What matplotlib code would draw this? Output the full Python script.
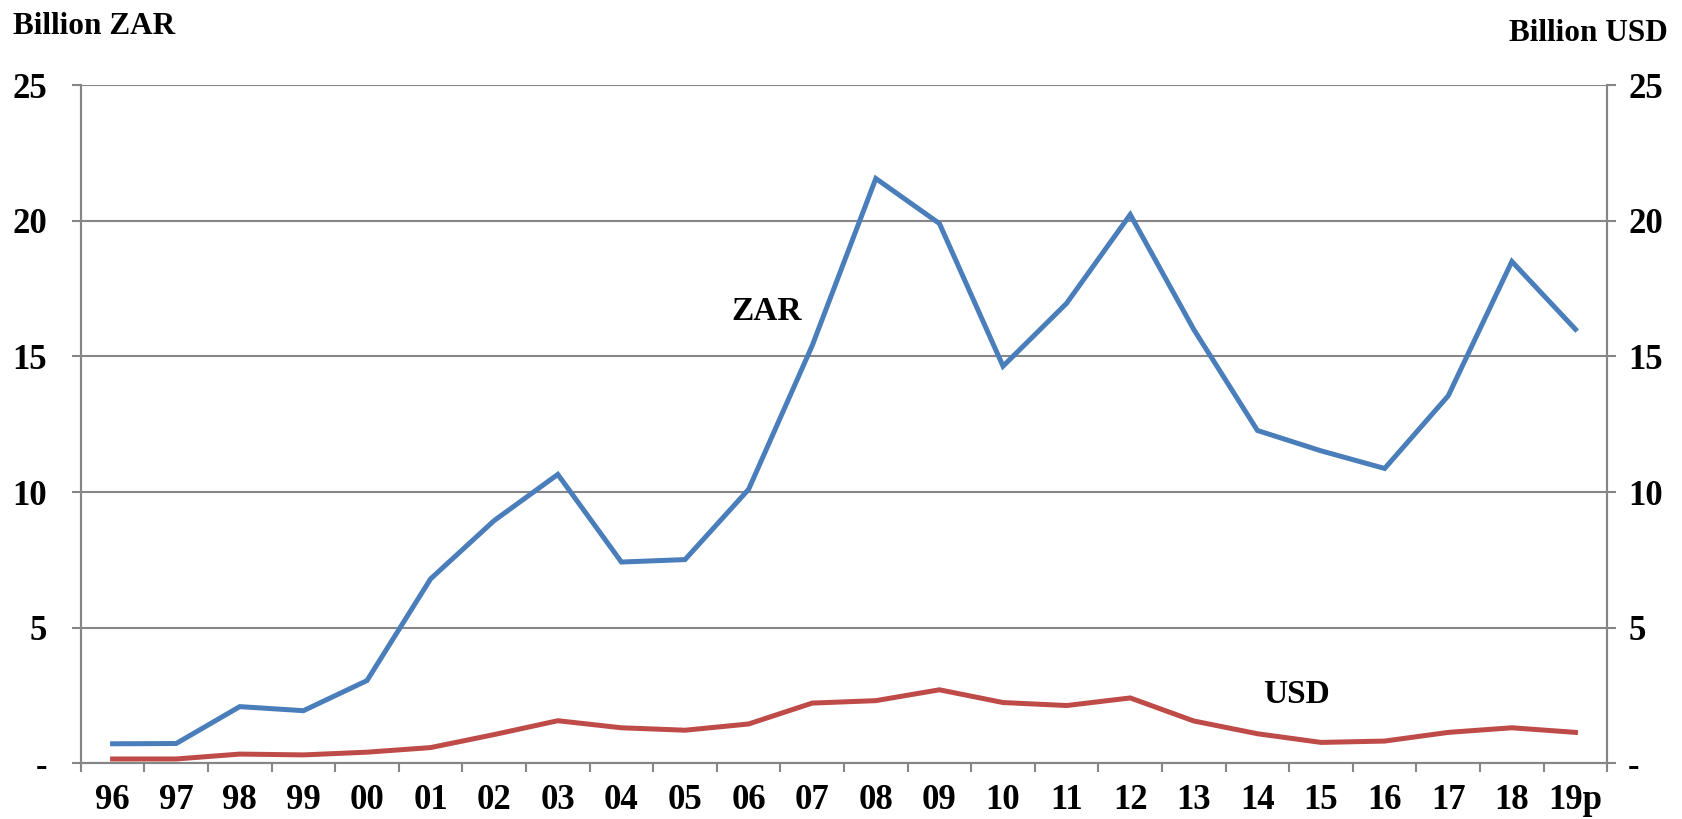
import matplotlib.pyplot as plt
import numpy as np
from matplotlib.ticker import FixedLocator, FuncFormatter

years = ['96', '97', '98', '99', '00', '01', '02', '03', '04', '05', '06', '07',
         '08', '09', '10', '11', '12', '13', '14', '15', '16', '17', '18', '19p']
zar = [0.72, 0.73, 2.09, 1.94, 3.05, 6.8, 8.95, 10.65, 7.42, 7.51, 10.1, 15.4,
       21.56, 19.9, 14.64, 16.96, 20.23, 15.99, 12.27, 11.52, 10.87, 13.55, 18.5, 16.0]
usd = [0.16, 0.16, 0.34, 0.31, 0.41, 0.58, 1.06, 1.57, 1.31, 1.22, 1.45, 2.22,
       2.31, 2.71, 2.24, 2.13, 2.41, 1.56, 1.09, 0.77, 0.82, 1.14, 1.31, 1.14]
yticks = [0, 5, 10, 15, 20, 25]

plt.rcParams['font.family'] = ['Liberation Serif', 'DejaVu Serif']
plt.rcParams['font.weight'] = 'bold'

grey = '#868686'
fs_tick = 25
fs_lab = 22.5

fig = plt.figure(figsize=(16.83, 8.19), dpi=100)
ax = fig.add_axes([0.048, 0.068, 0.907, 0.828])
ax2 = ax.twinx()

x = np.arange(len(years))
ax.plot(x, zar, color='#4A7EBB', lw=3.6, solid_joinstyle='miter', zorder=3)
ax2.plot(x, usd, color='#BE4B48', lw=3.6, solid_joinstyle='miter', zorder=3)

def ylab(v, pos):
    return '-' if v == 0 else '%d' % v

for a in (ax, ax2):
    a.set_ylim(0, 25)
    a.set_xlim(-0.5, len(years) - 0.5)
    a.yaxis.set_major_locator(FixedLocator(yticks))
    a.yaxis.set_major_formatter(FuncFormatter(ylab))
    for s in a.spines.values():
        s.set_color(grey)
        s.set_linewidth(1.5)
    a.spines['top'].set_visible(False)
    a.tick_params(axis='y', direction='out', length=6.5, width=1.5, color=grey,
                  labelsize=fs_tick)

ax.tick_params(axis='y', pad=18)
ax2.tick_params(axis='y', pad=8.5)
ax.yaxis.grid(True, color=grey, lw=1.5)
ax.set_axisbelow(True)

ax.set_xticks(x)
ax.set_xticklabels(years)
ax.set_xticks(np.arange(-0.5, len(years)), minor=True)
ax.tick_params(axis='x', which='major', length=0, labelsize=fs_tick, pad=15)
ax.tick_params(axis='x', which='minor', direction='out', length=6.5, width=1.5, color=grey)

ax.text(10.28, 16.33, 'ZAR', fontsize=24, fontweight='bold', ha='center', va='baseline')
ax.text(18.61, 2.21, 'USD', fontsize=24, fontweight='bold', ha='center', va='baseline')

fig.text(13 / 1683, 1 - 34 / 819, 'Billion ZAR', fontsize=fs_lab, fontweight='bold',
         ha='left', va='baseline')
fig.text(1668 / 1683, 1 - 41 / 819, 'Billion USD', fontsize=fs_lab, fontweight='bold',
         ha='right', va='baseline')

fig.savefig('out.png', dpi=100)
